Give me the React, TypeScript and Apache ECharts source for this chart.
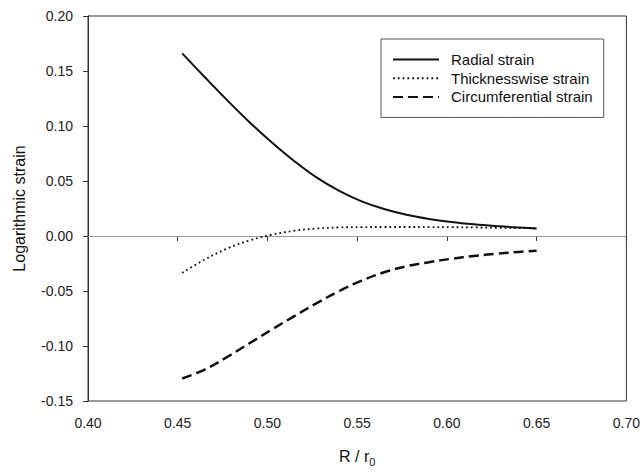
import React, { useEffect, useRef } from "react";
import * as echarts from "echarts";

const xValues = [0.4525, 0.465, 0.4775, 0.49, 0.5025, 0.515, 0.5275, 0.54, 0.5525, 0.565, 0.5775, 0.59, 0.6025, 0.615, 0.6275, 0.64, 0.65];
const radialStrain = [0.166, 0.1445, 0.1235, 0.1035, 0.085, 0.068, 0.053, 0.041, 0.0315, 0.0245, 0.0193, 0.0155, 0.0127, 0.0106, 0.009, 0.0077, 0.0068];
const thicknessStrain = [-0.0335, -0.0215, -0.0115, -0.004, 0.0012, 0.0048, 0.0068, 0.0078, 0.0081, 0.0082, 0.0082, 0.0081, 0.008, 0.0078, 0.0075, 0.0072, 0.007];
const circumferentialStrain = [-0.1295, -0.1215, -0.11, -0.0975, -0.085, -0.0728, -0.061, -0.05, -0.0405, -0.033, -0.0275, -0.0238, -0.0207, -0.0182, -0.0162, -0.0145, -0.0133];
const seriesNames = ["Radial strain", "Thicknesswise strain", "Circumferential strain"];

const FONT = "Liberation Sans, Arial, sans-serif";

export default function App() {
  const ref = useRef<HTMLDivElement>(null);
  useEffect(() => {
    if (!ref.current) return;
    const chart = echarts.init(ref.current, undefined, { renderer: "svg" });
    const pairs = (ys: number[]) => xValues.map((x, i) => [x, ys[i]]);
    chart.setOption({
      animation: false,
      backgroundColor: "#ffffff",
      textStyle: { fontFamily: FONT },
      grid: {
        left: 88,
        right: 15,
        top: 16,
        bottom: 66,
        show: true,
        borderColor: "#333",
        borderWidth: 1,
        backgroundColor: "transparent",
      },
      legend: {
        orient: "vertical",
        left: 381,
        top: 39,
        padding: [12, 11, 12, 11],
        itemWidth: 46,
        itemHeight: 14,
        itemGap: 1.7,
        borderColor: "#555",
        borderWidth: 1,
        backgroundColor: "#fff",
        itemStyle: { opacity: 0 },
        textStyle: { fontFamily: FONT, fontSize: 15, lineHeight: 17, color: "#111", padding: [0, 0, 0, 7] },
        data: seriesNames,
      },
      xAxis: {
        type: "value",
        min: 0.4,
        max: 0.7,
        interval: 0.05,
        name: "R / r{sub|0}",
        nameLocation: "middle",
        nameGap: 44,
        nameTextStyle: {
          fontFamily: FONT,
          fontSize: 16,
          color: "#111",
          rich: {
            sub: { fontFamily: FONT, fontSize: 11, color: "#111", verticalAlign: "bottom", lineHeight: 22 },
          },
          lineHeight: 22,
        },
        axisLine: { show: true, lineStyle: { color: "#333", width: 1 } },
        axisTick: { show: true, inside: false, length: 5, lineStyle: { color: "#333" } },
        axisLabel: { margin: 15, fontSize: 14, color: "#222", fontFamily: FONT, formatter: (v: number) => v.toFixed(2) },
        splitLine: { show: false },
      },
      yAxis: {
        type: "value",
        min: -0.15,
        max: 0.2,
        interval: 0.05,
        name: "Logarithmic strain",
        nameLocation: "middle",
        nameGap: 61,
        nameTextStyle: { fontFamily: FONT, fontSize: 16, color: "#111" },
        axisLine: { show: true, lineStyle: { color: "#333", width: 1 } },
        axisTick: { show: true, inside: false, length: 5, lineStyle: { color: "#333" } },
        axisLabel: { margin: 15, fontSize: 14, color: "#222", fontFamily: FONT, formatter: (v: number) => v.toFixed(2) },
        splitLine: { show: false },
      },
      series: [
        {
          name: seriesNames[0],
          type: "line",
          data: pairs(radialStrain),
          smooth: 0.4,
          showSymbol: false,
          symbol: "none",
          lineStyle: { color: "#111", width: 2, type: "solid" },
          itemStyle: { color: "#111" },
          z: 3,
          markLine: {
            silent: true,
            symbol: ["none", "none"],
            label: { show: false },
            lineStyle: { color: "#999", width: 1, type: "solid" },
            data: [{ yAxis: 0 }],
            z: 1,
          },
        },
        {
          name: seriesNames[1],
          type: "line",
          data: pairs(thicknessStrain),
          smooth: 0.4,
          showSymbol: false,
          symbol: "none",
          lineStyle: { color: "#111", width: 1.8, type: [1.8, 3] },
          itemStyle: { color: "#111" },
          z: 3,
        },
        {
          name: seriesNames[2],
          type: "line",
          data: pairs(circumferentialStrain),
          smooth: 0.4,
          showSymbol: false,
          symbol: "none",
          lineStyle: { color: "#111", width: 2.5, type: [10, 5] },
          itemStyle: { color: "#111" },
          z: 3,
        },
      ],
    });
    return () => chart.dispose();
  }, []);
  return (
    <div
      ref={ref}
      style={{ position: "fixed", left: 0, top: 0, width: 643, height: 472, background: "#fff" }}
    />
  );
}
